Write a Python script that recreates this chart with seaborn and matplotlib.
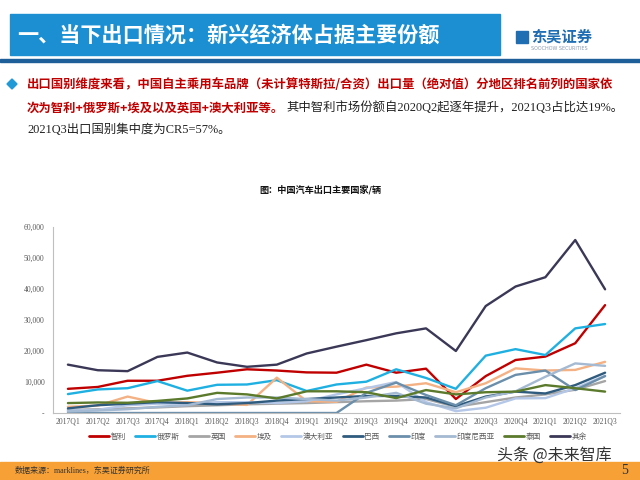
import numpy as np
import pandas as pd
import matplotlib
matplotlib.use("Agg")
import matplotlib.pyplot as plt
from matplotlib.patches import Rectangle, Polygon
import seaborn as sns

QUARTERS = [
    "2017Q1", "2017Q2", "2017Q3", "2017Q4",
    "2018Q1", "2018Q2", "2018Q3", "2018Q4",
    "2019Q1", "2019Q2", "2019Q3", "2019Q4",
    "2020Q1", "2020Q2", "2020Q3", "2020Q4",
    "2021Q1", "2021Q2", "2021Q3",
]

COUNTRIES = ["智利", "俄罗斯", "英国", "埃及", "澳大利亚", "巴西", "印度", "印度尼西亚", "泰国", "其余"]

chile = [7800, 8400, 10400, 10400, 12000, 13000, 14100, 13700, 13100, 13000,
         15600, 13000, 14300, 4500, 11900, 17100, 18200, 22500, 34800]
russia = [6100, 7600, 8000, 10300, 7200, 9100, 9200, 10600, 7100, 9200,
          10100, 14100, 11300, 7800, 18500, 20600, 18700, 27300, 28700]
uk = [1000, 1200, 1500, 1800, 2200, 2500, 2800, 3000, 3200, 3500,
      3800, 4000, 4500, 2000, 3500, 5000, 6000, 7500, 10300]
egypt = [2000, 2400, 5300, 3200, 3500, 3200, 2600, 11400, 3800, 3600,
         8200, 8500, 9600, 6700, 9600, 14400, 13700, 13900, 16500]
australia = [800, 1000, 2500, 3000, 3000, 3500, 3500, 3200, 3800, 6000,
             8000, 10000, 3500, 600, 1700, 4700, 4800, 8000, 12000]
brazil = [1500, 2500, 3000, 3500, 3200, 2800, 3200, 4000, 4500, 5000,
          5500, 5500, 5000, 2200, 5300, 6900, 6300, 9000, 13000]
india = [0, 0, 0, 0, 0, 0, 0, 0, 0, 0,
         6500, 9800, 5800, 2500, 8000, 12300, 13700, 7400, 11900]
indonesia = [500, 800, 1200, 2000, 2500, 4500, 5000, 5000, 4500, 4000,
             5000, 6500, 3000, 1500, 5000, 7000, 11700, 16000, 15200]
thailand = [3200, 3400, 3300, 3900, 4700, 6500, 6000, 4700, 7000, 7000,
            6700, 4800, 7400, 6000, 6700, 6900, 9000, 8000, 6900]
others = [15600, 13800, 13500, 18100, 19500, 16300, 14900, 15600, 19200, 21400,
          23500, 25700, 27300, 20000, 34500, 40800, 43800, 55800, 39900]

SERIES = [chile, russia, uk, egypt, australia, brazil, india, indonesia, thailand, others]

COLORS = {
    "智利": "#c00000",
    "俄罗斯": "#1fb0e2",
    "英国": "#a5a5a5",
    "埃及": "#f4b183",
    "澳大利亚": "#b4c7e7",
    "巴西": "#2f5c7e",
    "印度": "#6b8fab",
    "印度尼西亚": "#a4b9d2",
    "泰国": "#5b7a2c",
    "其余": "#3a3856",
}

CJK = "Noto Sans CJK SC"
SERIF = "Liberation Serif"

sns.set_style("white")
plt.rcParams["font.family"] = [CJK, "DejaVu Sans"]

W, H = 640, 480


def fx(x):
    return x / W


def fy(y):
    return 1 - y / H


rows = []
for name, vals in zip(COUNTRIES, SERIES):
    for i, v in enumerate(vals):
        rows.append({"idx": i, "value": v, "country": name})
df = pd.DataFrame(rows)

fig = plt.figure(figsize=(6.4, 4.8), dpi=100)

# header
fig.patches.append(Rectangle((fx(10), fy(55)), fx(490), 41 / H, transform=fig.transFigure,
                             color="#1b8fd2", zorder=0))
fig.text(fx(17), fy(35), "一、当下出口情况：新兴经济体占据主要份额", color="white",
         fontsize=15.2, fontweight="bold", va="center", ha="left")
fig.patches.append(Rectangle((0, fy(62)), 1, 3 / H, transform=fig.transFigure,
                             color="#1f5f99", zorder=0))
fig.patches.append(Rectangle((fx(516), fy(43)), 12 / W, 12 / H, transform=fig.transFigure,
                             color="#1f6db3", zorder=1))
fig.text(fx(531), fy(37), "东吴证券", color="#1f6db3", fontsize=11, fontweight="bold",
         va="center", ha="left")
fig.text(fx(531), fy(48), "SOOCHOW SECURITIES", color="#8a9bb0", fontsize=3.5,
         va="center", ha="left", family="DejaVu Sans")

# bullet text
fig.patches.append(Polygon([(fx(12), fy(79)), (fx(17), fy(84)), (fx(12), fy(89)), (fx(7), fy(84))],
                           closed=True, transform=fig.transFigure, color="#1f9ad6"))
fig.text(fx(27), fy(85),
         "出口国别维度来看，中国自主乘用车品牌（未计算特斯拉/合资）出口量（绝对值）分地区排名前列的国家依",
         color="#c00000", fontsize=8.9, fontweight="bold", va="center", ha="left")
t2 = fig.text(fx(27), fy(108), "次为智利+俄罗斯+埃及以及英国+澳大利亚等。",
              color="#c00000", fontsize=8.9, fontweight="bold", va="center", ha="left")
renderer = fig.canvas.get_renderer()
bb = t2.get_window_extent(renderer)
fig.text(bb.x1 / W + fx(2), fy(108), "其中智利市场份额自2020Q2起逐年提升，2021Q3占比达19%。",
         color="#222222", fontsize=8.9, va="center", ha="left", family=[SERIF, CJK])
fig.text(fx(27), fy(130), "2021Q3出口国别集中度为CR5=57%。",
         color="#222222", fontsize=8.9, va="center", ha="left", family=[SERIF, CJK])

# chart title
fig.text(0.5, fy(190), "图：中国汽车出口主要国家/辆", fontsize=6.6, fontweight="bold",
         ha="center", va="center", color="#111111")

ax = fig.add_axes([fx(53), fy(413), (620 - 53) / W, (413 - 227) / H])
sns.lineplot(data=df, x="idx", y="value", hue="country", hue_order=COUNTRIES,
             palette=COLORS, linewidth=1.7, estimator=None, sort=False, ax=ax)
handles, labels = ax.get_legend_handles_labels()
ax.get_legend().remove()

ax.set_xlim(-0.5, len(QUARTERS) - 0.5)
ax.set_ylim(0, 60000)
ax.set_xticks(range(len(QUARTERS)))
ax.set_xticklabels(QUARTERS, fontsize=5.5, color="#595959", family=SERIF)
yt = np.arange(0, 60001, 10000)
ax.set_yticks(yt)
ax.set_yticklabels(["-"] + [f"{v:,}" for v in yt[1:]], fontsize=5.5, color="#595959", family=SERIF)
ax.set_xticks(np.arange(-0.5, len(QUARTERS)), minor=True)
ax.tick_params(axis="x", which="major", length=0, pad=3)
ax.tick_params(axis="x", which="minor", length=3, color="#bfbfbf", direction="out")
ax.tick_params(axis="y", length=3, color="#bfbfbf", direction="out", pad=3)
ax.set_xlabel("")
ax.set_ylabel("")
for s in ["top", "right"]:
    ax.spines[s].set_visible(False)
for s in ["left", "bottom"]:
    ax.spines[s].set_color("#bfbfbf")
    ax.spines[s].set_linewidth(0.8)
ax.grid(False)

for h in handles:
    h.set_linewidth(2.0)
leg = fig.legend(handles, labels, loc="center", bbox_to_anchor=(fx(338), fy(437)), ncol=10,
                 frameon=False, fontsize=5.5, handlelength=2.6, handletextpad=0.2,
                 columnspacing=1.25)
for txt in leg.get_texts():
    txt.set_color("#595959")

# watermark
fig.text(fx(612), fy(455), "头条 @未来智库", fontsize=11.5, color="#333333",
         ha="right", va="center")

# footer
fig.patches.append(Rectangle((0, 0), 1, 18 / H, transform=fig.transFigure,
                             color="#f7a035", zorder=0))
fig.text(fx(15), fy(471), "数据来源：marklines，东吴证券研究所", fontsize=5.8, color="#333333",
         ha="left", va="center", family=[SERIF, CJK])
fig.text(fx(628), fy(470), "5", fontsize=10, color="#333333", ha="right", va="center",
         family=SERIF)

fig.savefig("out.png", dpi=100)
